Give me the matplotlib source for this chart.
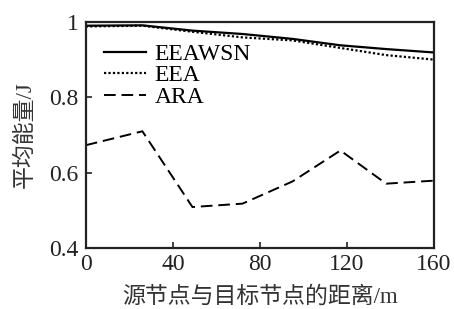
import matplotlib
matplotlib.use("Agg")
import matplotlib.pyplot as plt
from matplotlib.ticker import FixedLocator, FixedFormatter

x = [0, 26, 49, 72, 95, 117, 138, 160]
eeawsn = [0.990, 0.991, 0.977, 0.968, 0.955, 0.938, 0.928, 0.919]
eea = [0.988, 0.990, 0.974, 0.959, 0.951, 0.931, 0.912, 0.900]
ara = [0.673, 0.710, 0.509, 0.518, 0.577, 0.659, 0.571, 0.579]
xticks = [0, 40, 80, 120, 160]
yticks = [0.4, 0.6, 0.8, 1.0]
ytick_labels = ["0.4", "0.6", "0.8", "1"]
xlabel = "源节点与目标节点的距离/m"
ylabel = "平均能量/J"

fams = ["Liberation Serif", "Noto Sans CJK SC"]
plt.rcParams["font.family"] = fams

fig = plt.figure(figsize=(4.54, 3.09), dpi=100)
ax = fig.add_axes([0.189, 0.197, 0.767, 0.732])

ax.plot(x, eeawsn, color="black", lw=1.6, ls="-", label="EEAWSN")
ax.plot(x, eea, color="black", lw=1.6, ls=(0, (1, 1)), label="EEA")
ax.plot(x, ara, color="black", lw=1.4, ls=(0, (6, 3)), label="ARA")

ax.set_xlim(0, 160)
ax.set_ylim(0.4, 1.0)
ax.xaxis.set_major_locator(FixedLocator(xticks))
ax.yaxis.set_major_locator(FixedLocator(yticks))
ax.yaxis.set_major_formatter(FixedFormatter(ytick_labels))
ax.tick_params(direction="in", length=4, width=1.2, labelsize=17, colors="#222222",
               top=False, right=False)
ax.tick_params(axis="x", pad=4)
ax.tick_params(axis="y", pad=5)
for s in ax.spines.values():
    s.set_linewidth(1.6)
    s.set_color("#222222")

ax.set_xlabel(xlabel, fontsize=16.5, color="#333333", labelpad=8)
ax.set_ylabel(ylabel, fontsize=16.5, color="#333333", labelpad=10)

leg = ax.legend(loc="upper left", bbox_to_anchor=(0.052, 0.905), frameon=False,
                fontsize=17, handlelength=1.77, handletextpad=0.38,
                labelspacing=0.0, borderpad=0, borderaxespad=0)

fig.savefig("out.png", dpi=100)
